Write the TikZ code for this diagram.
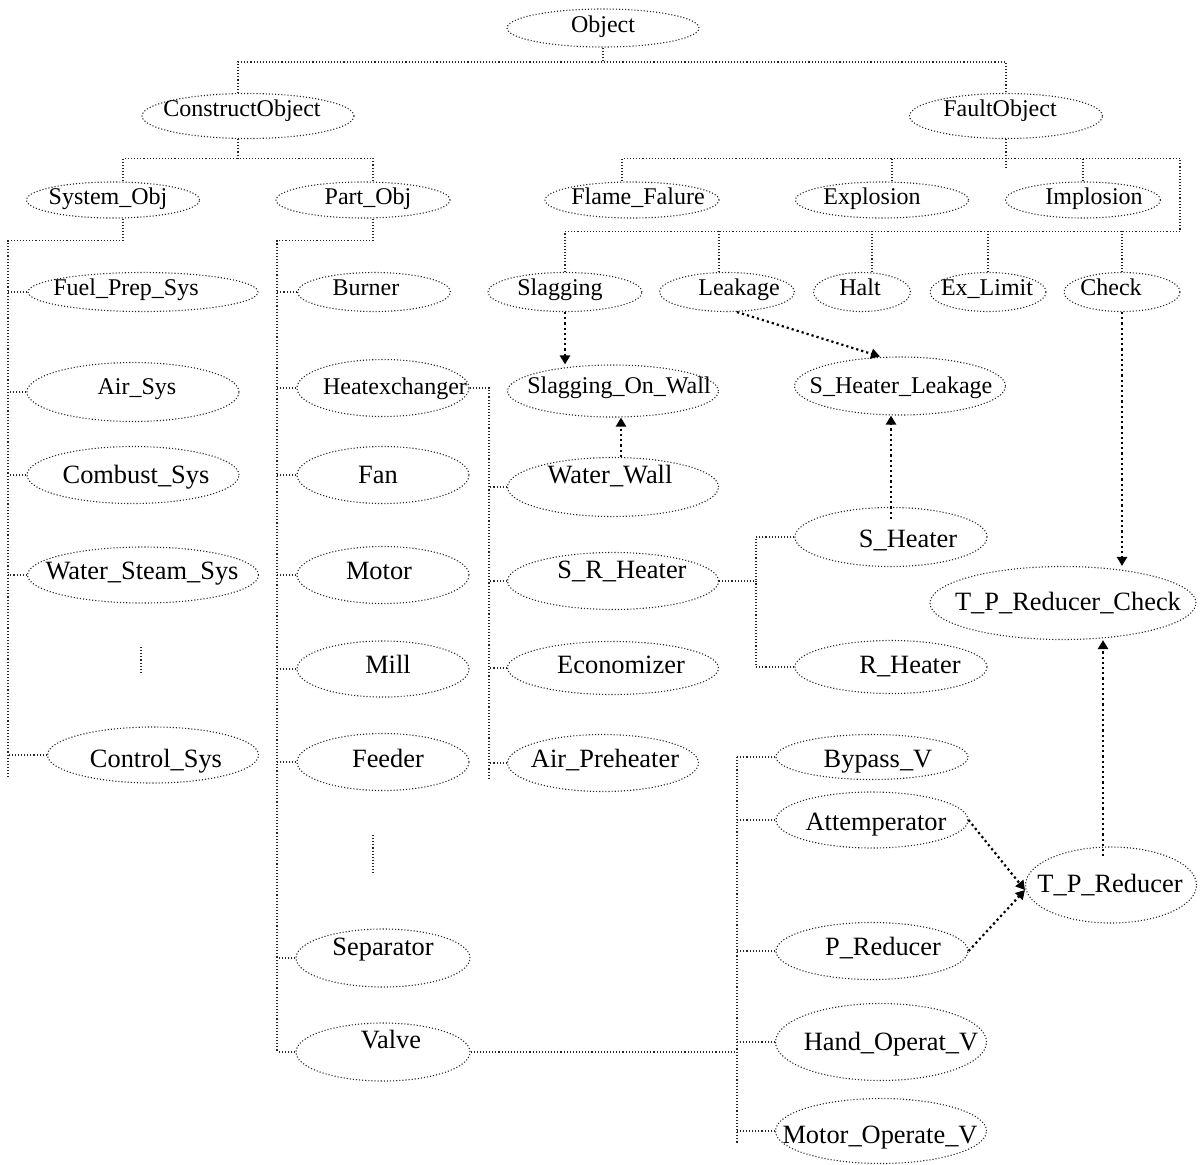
\documentclass[tikz,border=0pt]{standalone}
\usepackage{fontspec}
\setmainfont{Liberation Serif}
\usetikzlibrary{shapes.geometric,arrows.meta}

% Beschriftung ohne Ausdehnung, um (dx,dy) Pixel gegen die Mitte verschoben
\newcommand{\beschr}[3]{\smash{\makebox[0pt]{\hspace*{#1pt}\raisebox{-0.5\dimexpr#2pt\relax}{#3}}}}

\tikzset{
	oval/.style 2 args={ellipse, draw=black!85, densely dotted, line width=0.55pt,
		inner sep=0pt, minimum width=#1*0.5pt, minimum height=#2*0.5pt},
	klein/.style={font=\fontsize{12pt}{14pt}\selectfont},
	gross/.style={font=\fontsize{13.2pt}{15pt}\selectfont},
	ast/.style={draw=black!85, densely dotted, line width=0.55pt},
	bezug/.style={draw=black, line width=1.1pt, dash pattern=on 1.1pt off 1.5pt,
		-{Triangle[length=4.5pt,width=5pt]}},
}

\begin{document}
\begin{tikzpicture}[x=0.5pt,y=-0.5pt]
		\useasboundingbox (0,0) rectangle (1200,1164);

		% Wurzel und Oberklassen
		\node[oval={192}{38}, klein] (object)    at ( 603, 28) {\beschr{0}{4}{Object}};
		\node[oval={212}{45}, klein] (construct) at ( 248,116) {\beschr{-6}{0}{ConstructObject}};
		\node[oval={193}{45}, klein] (fault)     at (1006,116) {\beschr{-6}{0}{FaultObject}};

		% zweite Ebene
		\node[oval={173}{36}, klein] (system)    at ( 113,200) {\beschr{-5}{4}{System\_Obj}};
		\node[oval={174}{36}, klein] (part)      at ( 363,200) {\beschr{5}{4}{Part\_Obj}};
		\node[oval={174}{36}, klein] (flame)     at ( 632,200) {\beschr{6}{4}{Flame\_Falure}};
		\node[oval={173}{36}, klein] (explosion) at ( 882,200) {\beschr{-10}{4}{Explosion}};
		\node[oval={155}{36}, klein] (implosion) at (1083,200) {\beschr{11}{4}{Implosion}};

		% dritte Ebene
		\node[oval={230}{39}, klein] (fuel)      at ( 143,292) {\beschr{-17}{3}{Fuel\_Prep\_Sys}};
		\node[oval={153}{39}, klein] (burner)    at ( 374,292) {\beschr{-8}{3}{Burner}};
		\node[oval={154}{39}, klein] (slagging)  at ( 565,292) {\beschr{-5}{3}{Slagging}};
		\node[oval={135}{39}, klein] (leakage)   at ( 727,292) {\beschr{12}{3}{Leakage}};
		\node[oval={97}{39},  klein] (halt)      at ( 862,292) {\beschr{-2}{3}{Halt}};
		\node[oval={116}{39}, klein] (exlimit)   at ( 988,292) {\beschr{-1}{3}{Ex\_Limit}};
		\node[oval={116}{39}, klein] (check)     at (1122,292) {\beschr{-11}{3}{Check}};

		% Systeme
		\node[oval={212}{59}, klein] (air)        at (133,392) {\beschr{4}{2}{Air\_Sys}};
		\node[oval={212}{57}, gross] (combust)    at (133,475) {\beschr{3}{8}{Combust\_Sys}};
		\node[oval={231}{56}, gross] (watersteam) at (143,575) {\beschr{-1}{4}{Water\_Steam\_Sys}};
		\node[oval={211}{56}, gross] (control)    at (153,755) {\beschr{3}{12}{Control\_Sys}};

		% Bauteile
		\node[oval={172}{57}, klein] (heatex)    at (383, 388) {\beschr{12}{6}{Heatexchanger}};
		\node[oval={172}{57}, gross] (fan)       at (383, 475) {\beschr{-5}{8}{Fan}};
		\node[oval={172}{57}, gross] (motor)     at (383, 575) {\beschr{-4}{4}{Motor}};
		\node[oval={172}{56}, gross] (mill)      at (383, 669) {\beschr{5}{4}{Mill}};
		\node[oval={172}{57}, gross] (feeder)    at (383, 762) {\beschr{5}{5}{Feeder}};
		\node[oval={174}{58}, gross] (separator) at (383, 958) {\beschr{0}{-3}{Separator}};
		\node[oval={174}{58}, gross] (valve)     at (383,1052) {\beschr{8}{-4}{Valve}};

		% Waermetauscher und Fehler daran
		\node[oval={211}{52}, klein] (slagwall)   at (613,391) {\beschr{6}{2}{Slagging\_On\_Wall}};
		\node[oval={211}{59}, gross] (waterwall)  at (613,487) {\beschr{-3}{-4}{Water\_Wall}};
		\node[oval={211}{57}, gross] (srheater)   at (613,581) {\beschr{9}{-3}{S\_R\_Heater}};
		\node[oval={211}{53}, gross] (economizer) at (613,668) {\beschr{8}{5}{Economizer}};
		\node[oval={191}{57}, gross] (airpre)     at (603,763) {\beschr{2}{4}{Air\_Preheater}};
		\node[oval={211}{58}, klein] (sheatleak)  at (900,386) {\beschr{1}{7}{S\_Heater\_Leakage}};
		\node[oval={192}{59}, gross] (sheater)    at (891,537) {\beschr{17}{10}{S\_Heater}};
		\node[oval={192}{53}, gross] (rheater)    at (891,667) {\beschr{19}{6}{R\_Heater}};
		\node[oval={266}{73}, gross] (tpcheck)    at (1063,603) {\beschr{5}{7}{T\_P\_Reducer\_Check}};

		% Ventile
		\node[oval={192}{45}, gross] (bypass)   at ( 872, 757) {\beschr{6}{10}{Bypass\_V}};
		\node[oval={192}{56}, gross] (attemp)   at ( 872, 820) {\beschr{4}{10}{Attemperator}};
		\node[oval={192}{57}, gross] (preducer) at ( 872, 951) {\beschr{11}{4}{P\_Reducer}};
		\node[oval={211}{77}, gross] (handop)   at ( 881,1042) {\beschr{10}{8}{Hand\_Operat\_V}};
		\node[oval={211}{65}, gross] (motorop)  at ( 881,1131) {\beschr{-1}{12}{Motor\_Operate\_V}};
		\node[oval={171}{76}, gross] (tpred)    at (1111, 885) {\beschr{-1}{7}{T\_P\_Reducer}};

		% Enden der senkrechten Staemme
		\coordinate (ls) at (  8, 778);
		\coordinate (ps) at (277,1052);
		\coordinate (hs) at (489, 778);
		\coordinate (ss) at (756, 581);
		\coordinate (vs) at (737,1143);

		% Vererbung oben
		\draw[ast] (object.south) -- ++(0,15);
		\draw[ast] ([xshift=-5pt]construct.north) -- ++(0,-31) -| (fault.north);
		\draw[ast] ([xshift=-5pt]construct.south) -- ++(0,21);
		\draw[ast] ([xshift=5pt]system.north) -- ++(0,-23) -| ([xshift=5pt]part.north);
		\draw[ast] (fault.south) -- ++(0,28);
		\draw[ast] ([xshift=-5pt]flame.north) -- ++(0,-23) -- ++(558,0) -- ++(0,73) -| (slagging.north);
		\draw[ast] ([xshift=5pt]explosion.north) -- ++(0,-23);
		\draw[ast] (implosion.north) -- ++(0,-23);
		\draw[ast] ([xshift=-4pt]leakage.north) -- ++(0,-41);
		\draw[ast] ([xshift=5pt]halt.north) -- ++(0,-41);
		\draw[ast] (exlimit.north) -- ++(0,-41);
		\draw[ast] (check.north) -- ++(0,-41);

		% Systeme
		\draw[ast] ([xshift=5pt]system.south) -- ++(0,22) -| (ls);
		\draw[ast] (fuel.west) -- (fuel.west -| ls);
		\draw[ast] (air.west) -- (air.west -| ls);
		\draw[ast] (combust.west) -- (combust.west -| ls);
		\draw[ast] (watersteam.west) -- (watersteam.west -| ls);
		\draw[ast] (control.west) -- (control.west -| ls);
		\draw[ast] (141,647) -- (141,674);

		% Bauteile
		\draw[ast] ([xshift=5pt]part.south) -- ++(0,22) -| (ps);
		\draw[ast] (burner.west) -- (burner.west -| ps);
		\draw[ast] (heatex.west) -- (heatex.west -| ps);
		\draw[ast] (fan.west) -- (fan.west -| ps);
		\draw[ast] (motor.west) -- (motor.west -| ps);
		\draw[ast] (mill.west) -- (mill.west -| ps);
		\draw[ast] (feeder.west) -- (feeder.west -| ps);
		\draw[ast] (separator.west) -- (separator.west -| ps);
		\draw[ast] (valve.west) -- (valve.west -| ps);
		\draw[ast] (373,835) -- (373,873);

		% Waermetauscher
		\draw[ast] (heatex.east) -| (hs);
		\draw[ast] (waterwall.west) -- (waterwall.west -| hs);
		\draw[ast] (srheater.west) -- (srheater.west -| hs);
		\draw[ast] (economizer.west) -- (economizer.west -| hs);
		\draw[ast] (airpre.west) -- (airpre.west -| hs);
		\draw[ast] (srheater.east) -- (ss);
		\draw[ast] (sheater.west) -| (ss);
		\draw[ast] (rheater.west) -| (ss);

		% Ventile
		\draw[ast] (valve.east) -- (valve.east -| vs);
		\draw[ast] (bypass.west -| vs) -- (vs);
		\draw[ast] (bypass.west) -- (bypass.west -| vs);
		\draw[ast] (attemp.west) -- (attemp.west -| vs);
		\draw[ast] (preducer.west) -- (preducer.west -| vs);
		\draw[ast] (handop.west) -- (handop.west -| vs);
		\draw[ast] (motorop.west) -- (motorop.west -| vs);

		% Fehlerbeziehungen
		\draw[bezug] (slagging.south) -- (slagging.south |- slagwall.north);
		\draw[bezug] ([xshift=4pt]waterwall.north) -- ([xshift=4pt]slagwall.south);
		\draw[bezug] ([xshift=5pt]leakage.south) -- ([xshift=-10pt]sheatleak.north);
		\draw[bezug] ([yshift=-6pt]sheater.north) -- (sheater.north |- sheatleak.south);
		\draw[bezug] (check.south) -- (check.south |- tpcheck.north);
		\draw[bezug] ([shift={(-4pt,-5pt)}]tpred.north) -- ([xshift=20pt]tpcheck.south);
		\draw[bezug] (attemp.east) -- ([yshift=-2.5pt]tpred.west);
		\draw[bezug] (preducer.east) -- ([yshift=-2.5pt]tpred.west);
	\end{tikzpicture}
\end{document}
